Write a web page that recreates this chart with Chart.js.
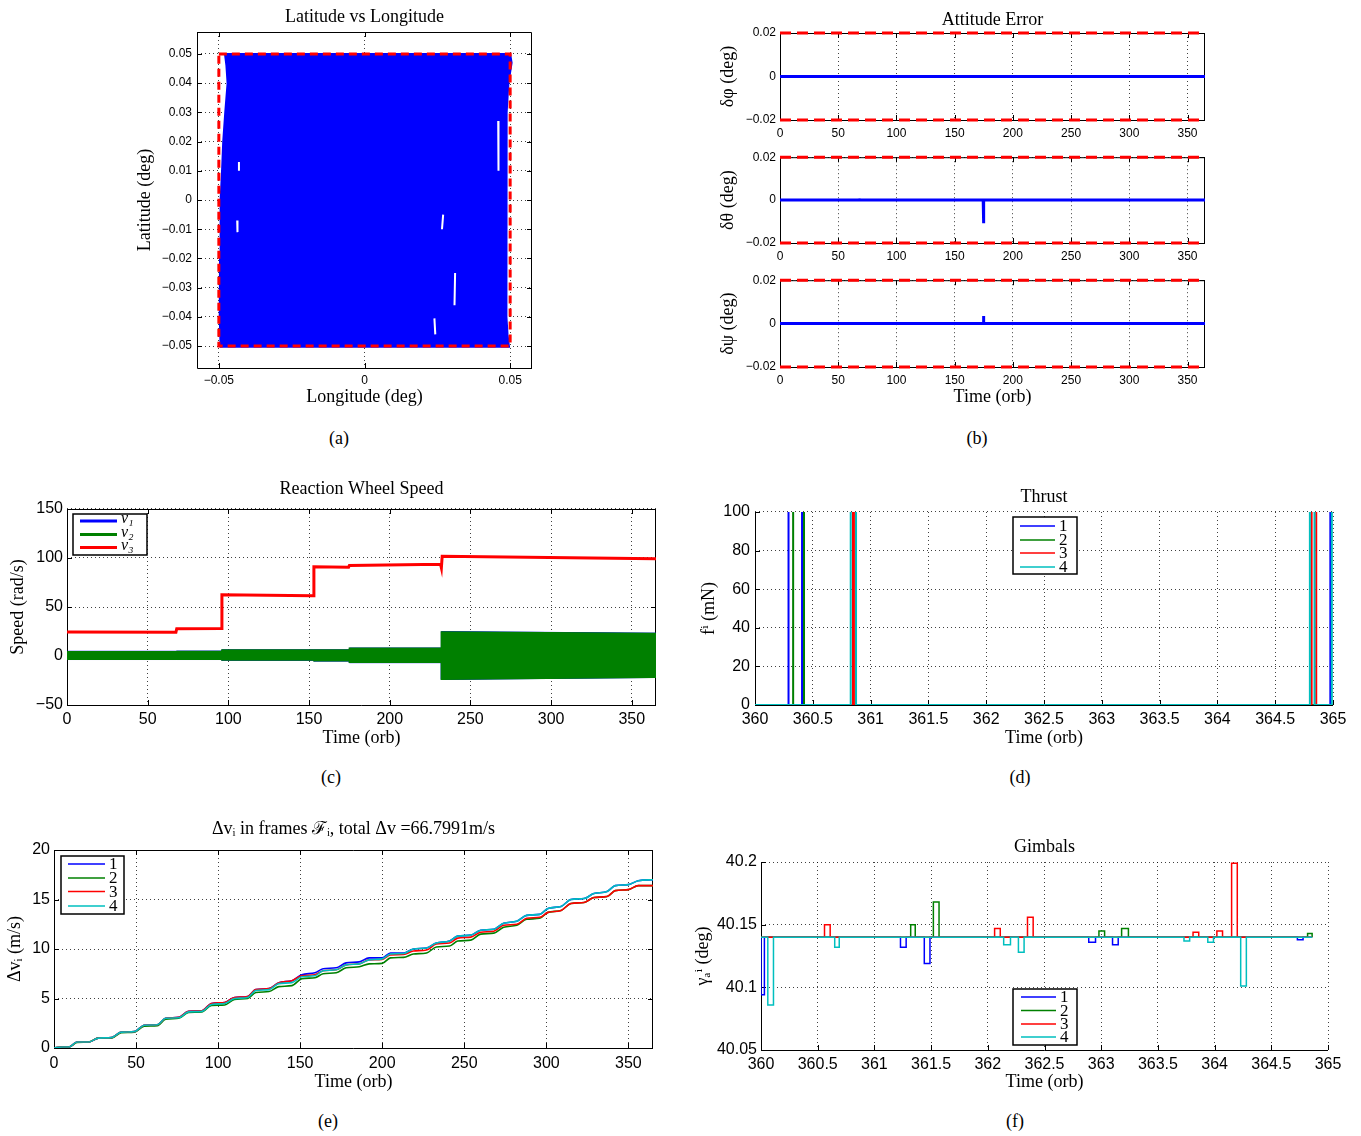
<!DOCTYPE html>
<html>
<head>
<meta charset="utf-8">
<script src="https://cdn.jsdelivr.net/npm/chart.js@4.4.1/dist/chart.umd.min.js"></script>
<style>
  body { margin: 0; background: #fff; width: 1361px; height: 1136px; position: relative; overflow: hidden; }
  canvas { position: absolute; }
  .cap { position: absolute; font: 18px 'Liberation Serif', serif; transform: translate(-50%, -50%); }
</style>
</head>
<body>
<div class="cap" style="left:339px;top:438px">(a)</div>
<div class="cap" style="left:977px;top:438px">(b)</div>
<div class="cap" style="left:331px;top:777px">(c)</div>
<div class="cap" style="left:1020px;top:777px">(d)</div>
<div class="cap" style="left:328px;top:1121px">(e)</div>
<div class="cap" style="left:1015px;top:1121px">(f)</div>
<script>
// ---- (a) latitude vs longitude: outline of the covered area, white gaps, limit box
const trackLon = [-0.0479, 0.0500, 0.0505, 0.0494, 0.0488, 0.0486, 0.0487, 0.0488, 0.0487, 0.0488, 0.0491, 0.0496,
                  -0.0494, -0.0497, -0.0496, -0.0494, -0.0489, -0.0485, -0.0478, -0.0470, -0.0474, -0.0479];
const trackLat = [0.0500, 0.0500, 0.0470, 0.0400, 0.0300, 0.0200, 0.0100, 0.0000, -0.0200, -0.0400, -0.0460, -0.0502,
                  -0.0502, -0.0400, -0.0200, 0.0000, 0.0100, 0.0200, 0.0300, 0.0400, 0.0460, 0.0500];
const gapLon = [0.0459, 0.0460, null, 0.0311, 0.0309, null, 0.0240, 0.0243, null, 0.0270, 0.0266, null, -0.0431, -0.0431, null, -0.0437, -0.0436];
const gapLat = [0.0270, 0.0100, null, -0.0250, -0.0360, null, -0.0405, -0.0460, null, -0.0050, -0.0100, null, 0.0130, 0.0100, null, -0.0070, -0.0110];
const limLon = [-0.05, 0.05, 0.05, -0.05, -0.05];
const limLat = [0.05, 0.05, -0.05, -0.05, 0.05];
const aXTicks = [-0.05, 0, 0.05];
const aYTicks = [-0.05, -0.04, -0.03, -0.02, -0.01, 0, 0.01, 0.02, 0.03, 0.04, 0.05];

// ---- (b) attitude error
const attT = [0, 365];
const phiErr = [0, 0];
const thetaT = [0, 67.6, 67.8, 68.0, 174.5, 174.7, 174.9, 175.1, 365];
const thetaErr = [0, 0, 0.0007, 0, 0, 0.0008, -0.0108, 0, 0];
const psiT = [0, 174.6, 174.8, 175.0, 365];
const psiErr = [0, 0, 0.0035, 0, 0];
const attBound = [0.02, 0.02];
const bXTicks = [0, 50, 100, 150, 200, 250, 300, 350];
const bYTicks = [-0.02, 0, 0.02];

// ---- (c) reaction wheel speed (nu1/nu2 oscillate: drawn as their envelopes)
const rwT = [0, 67.5, 68, 95.5, 96, 152.5, 153, 174.5, 175, 231.5, 232, 232.5, 365];
const nu3 = [24.5, 24.2, 27.8, 28, 62.5, 61.5, 91, 90.6, 92.4, 93.5, 90, 101.8, 99.3];
const bandT = [0, 68, 68, 96, 96, 153, 153, 175, 175, 232, 232, 365];
const nu1Hi = [4.8, 4.8, 5, 5, 6.3, 6.3, 6.3, 6.3, 8.1, 8.1, 24.9, 23.3];
const nu1Lo = [-3.6, -3.6, -3.6, -3.6, -4.4, -4.4, -5.2, -5.2, -6.8, -6.8, -23.9, -21.9];
const nu2Hi = [4.4, 4.4, 4.6, 4.6, 6, 6, 6, 6, 7.8, 7.8, 24.6, 23];
const nu2Lo = [-3.3, -3.3, -3.3, -3.3, -4.1, -4.1, -4.9, -4.9, -6.4, -6.4, -23.6, -21.6];
const cYTicks = [-50, 0, 50, 100, 150];

// ---- (d) thrust pulses (on / off times, level is off the scale)
const thrPeak = 150;
const thr1On = [360.29, 364.977], thr1Off = [360.407, 365.1];
const thr2On = [360.33], thr2Off = [360.424];
const thr3On = [360.848, 364.815], thr3Off = [360.866, 364.855];
const thr4On = [360.828, 364.80, 364.99], thr4Off = [360.874, 364.84, 365.1];
const dXTicks = [360, 360.5, 361, 361.5, 362, 362.5, 363, 363.5, 364, 364.5, 365];
const dYTicks = [0, 20, 40, 60, 80, 100];

// ---- (e) delta-v per frame
const dvT = [0, 5, 9, 14, 21, 27, 35, 41, 49, 55, 63, 68, 76, 82, 90, 96, 104, 110, 118, 123,
             131, 137, 145, 151, 159, 164, 172, 178, 186, 192, 200, 205, 213, 219, 227, 233, 241, 246, 254, 260,
             268, 274, 282, 288, 296, 301, 309, 315, 323, 329, 337, 342, 350, 356, 365];
const dv1 = [0, 0.1, 0.1, 0.6, 0.6, 1.0, 1.05, 1.6, 1.65, 2.3, 2.35, 3.0, 3.1, 3.7, 3.75, 4.5, 4.6, 5.1, 5.2, 5.9,
             6.0, 6.6, 6.8, 7.4, 7.6, 8.0, 8.1, 8.6, 8.7, 9.1, 9.1, 9.6, 9.6, 10.0, 10.1, 10.6, 10.8, 11.3, 11.4, 11.9,
             12.0, 12.6, 12.8, 13.4, 13.5, 14.1, 14.3, 15.0, 15.1, 15.6, 15.8, 16.4, 16.5, 16.9, 17.0];
const dv2 = [0, 0.1, 0.1, 0.55, 0.6, 1.0, 1.0, 1.55, 1.6, 2.2, 2.25, 2.9, 3.0, 3.6, 3.65, 4.3, 4.35, 4.9, 5.0, 5.6,
             5.7, 6.2, 6.3, 7.0, 7.1, 7.5, 7.6, 8.1, 8.2, 8.5, 8.55, 9.1, 9.15, 9.5, 9.6, 10.2, 10.3, 10.8, 10.9, 11.5,
             11.6, 12.2, 12.4, 13.0, 13.1, 13.7, 13.9, 14.6, 14.7, 15.2, 15.3, 15.9, 16.0, 16.4, 16.4];
const dv3 = [0, 0.1, 0.1, 0.6, 0.6, 1.0, 1.05, 1.6, 1.65, 2.3, 2.35, 3.0, 3.1, 3.7, 3.75, 4.5, 4.6, 5.1, 5.2, 5.9,
             6.0, 6.6, 6.8, 7.3, 7.4, 7.8, 7.9, 8.4, 8.5, 8.9, 8.95, 9.4, 9.45, 9.8, 9.9, 10.5, 10.6, 11.1, 11.2, 11.7,
             11.8, 12.4, 12.5, 13.1, 13.2, 13.7, 13.9, 14.6, 14.7, 15.2, 15.3, 15.9, 16.0, 16.4, 16.4];
const dv4 = [0, 0.1, 0.1, 0.6, 0.6, 1.0, 1.05, 1.6, 1.65, 2.3, 2.35, 3.0, 3.05, 3.65, 3.7, 4.4, 4.5, 5.0, 5.1, 5.8,
             5.9, 6.5, 6.6, 7.2, 7.3, 7.8, 7.9, 8.4, 8.5, 8.9, 9.0, 9.5, 9.55, 10.0, 10.1, 10.6, 10.8, 11.3, 11.4, 11.9,
             12.0, 12.6, 12.8, 13.4, 13.5, 14.1, 14.3, 15.0, 15.1, 15.6, 15.8, 16.4, 16.5, 16.9, 17.0];
const eXTicks = [0, 50, 100, 150, 200, 250, 300, 350];
const eYTicks = [0, 5, 10, 15, 20];

// ---- (f) gimbal angles: pulse start, end, level
const gimBase = 40.14, gimEnd = 364.86;
const g1On = [360.0, 361.23, 361.44, 362.89, 363.1, 364.73];
const g1Off = [360.03, 361.28, 361.49, 362.95, 363.15, 364.78];
const g1Val = [40.094, 40.132, 40.119, 40.136, 40.134, 40.138];
const g2On = [361.32, 361.52, 362.98, 363.18, 364.82];
const g2Off = [361.36, 361.57, 363.03, 363.24, 364.86];
const g2Val = [40.15, 40.168, 40.145, 40.147, 40.143];
const g3On = [360.56, 362.06, 362.35, 363.81, 364.02, 364.15];
const g3Off = [360.61, 362.11, 362.40, 363.86, 364.07, 364.20];
const g3Val = [40.15, 40.147, 40.156, 40.144, 40.145, 40.199];
const g4On = [360.06, 360.65, 362.14, 362.27, 363.73, 363.94, 364.23];
const g4Off = [360.11, 360.69, 362.20, 362.32, 363.78, 363.99, 364.28];
const g4Val = [40.086, 40.132, 40.134, 40.128, 40.137, 40.136, 40.101];
const fYTicks = [40.05, 40.1, 40.15, 40.2];

const BLUE = '#0000ff', GREEN = '#008000', RED = '#ff0000', CYAN = '#00bfbf';
const SANS = "'Liberation Sans', Arial, sans-serif";
const SERIF = "'Liberation Serif', 'DejaVu Serif', serif";
const LH = 18 * 1.2;

function pts(xs, ys) {
  return xs.map((x, i) => x === null ? { x: 0, y: null } : { x: x, y: ys[i] });
}
function pulses(t0, t1, base, on, off, lvl) {
  const xs = [t0], ys = [base];
  on.forEach((s, i) => { xs.push(s, s, off[i], off[i]); ys.push(base, lvl[i], lvl[i], base); });
  xs.push(t1); ys.push(base);
  return pts(xs, ys);
}
const fmt = v => String(Math.round(v * 1e6) / 1e6).replace('-', '\u2212');

// box around the axes with inward tick marks
const framePlugin = {
  id: 'frame',
  beforeDatasetsDraw(chart, args, o) {
    const ctx = chart.ctx, a = chart.chartArea;
    ctx.save();
    ctx.strokeStyle = '#000';
    ctx.lineWidth = 1;
    ctx.beginPath();
    ctx.moveTo(a.left + 0.5, a.top);
    ctx.lineTo(a.left + 0.5, a.bottom + 0.5);
    ctx.lineTo(a.right, a.bottom + 0.5);
    if (o.full) {
      ctx.moveTo(a.left, a.top + 0.5);
      ctx.lineTo(a.right - 0.5, a.top + 0.5);
      ctx.lineTo(a.right - 0.5, a.bottom);
    }
    chart.scales.x.ticks.forEach(t => {
      const px = Math.round(chart.scales.x.getPixelForValue(t.value)) + 0.5;
      ctx.moveTo(px, a.bottom); ctx.lineTo(px, a.bottom - 5);
      if (o.full) { ctx.moveTo(px, a.top); ctx.lineTo(px, a.top + 5); }
    });
    chart.scales.y.ticks.forEach(t => {
      const py = Math.round(chart.scales.y.getPixelForValue(t.value)) + 0.5;
      ctx.moveTo(a.left, py); ctx.lineTo(a.left + 5, py);
      if (o.full) { ctx.moveTo(a.right, py); ctx.lineTo(a.right - 5, py); }
    });
    ctx.stroke();
    ctx.restore();
  }
};

// MATLAB style boxed legend, placed in page coordinates
const legendPlugin = {
  id: 'boxLegend',
  afterDraw(chart, args, o) {
    if (!o.rows) return;
    const ctx = chart.ctx;
    const items = chart.data.datasets.filter(d => d.label);
    ctx.save();
    ctx.translate(-o.ox, -o.oy);
    ctx.fillStyle = '#fff';
    ctx.fillRect(o.x0, o.y0, o.x1 - o.x0, o.y1 - o.y0);
    ctx.strokeStyle = '#000';
    ctx.lineWidth = 1.5;
    ctx.strokeRect(o.x0, o.y0, o.x1 - o.x0, o.y1 - o.y0);
    items.forEach((d, i) => {
      const y = o.rows[i];
      ctx.strokeStyle = d.borderColor;
      ctx.lineWidth = o.lw;
      ctx.beginPath(); ctx.moveTo(o.lx0, y); ctx.lineTo(o.lx1, y); ctx.stroke();
      ctx.fillStyle = '#000';
      ctx.font = o.font;
      ctx.textBaseline = 'middle';
      ctx.fillText(d.label, o.tx, y + (o.dy || 0));
    });
    ctx.restore();
  }
};

function axis(min, max, ticks, size, pad, title) {
  return {
    type: 'linear', min: min, max: max,
    afterBuildTicks: s => { s.ticks = ticks.map(v => ({ value: v })); },
    ticks: { color: '#000', font: { size: size, family: SANS }, padding: pad, callback: v => fmt(v), maxRotation: 0, autoSkip: false },
    grid: { color: 'rgba(0,0,0,0.75)', drawTicks: false, lineWidth: 1 },
    border: { display: false, dash: [1, 3] },
    title: title ? { display: true, text: title, color: '#000', font: { family: SERIF, size: 18 }, padding: 0 } : { display: false }
  };
}

function plot(s) {
  const cl = Math.round(s.yTitleX - LH / 2);
  const ct = Math.round(s.title ? s.titleY - LH / 2 - 4 : s.T - 10);
  const cb = Math.round(s.xTitle ? s.xTitleY + LH / 2 : s.B + 24);
  const cr = s.R + 22;
  const cv = document.createElement('canvas');
  cv.width = cr - cl;
  cv.height = cb - ct;
  cv.style.left = cl + 'px';
  cv.style.top = ct + 'px';
  document.body.appendChild(cv);

  const x = axis(s.x[0], s.x[1], s.x[2], s.tickSize, s.xPad, s.xTitle);
  x.afterFit = sc => { sc.height = cb - s.B; };
  const y = axis(s.y[0], s.y[1], s.y[2], s.tickSize, s.yPad, s.yTitle);
  y.afterFit = sc => { sc.width = s.L - cl; };

  new Chart(cv, {
    type: 'line',
    data: { datasets: s.datasets },
    options: {
      responsive: false, animation: false, devicePixelRatio: 1,
      layout: { padding: { left: 0, right: cr - s.R, top: s.title ? 0 : s.T - ct, bottom: 0 } },
      elements: { point: { radius: 0 }, line: { tension: 0 } },
      scales: { x: x, y: y },
      plugins: {
        legend: { display: false },
        tooltip: { enabled: false },
        title: s.title ? {
          display: true, text: s.title, color: '#000', fullSize: false,
          font: { family: SERIF, size: 18, weight: 'normal' },
          padding: { top: s.titleY - LH / 2 - ct, bottom: s.T - s.titleY - LH / 2 }
        } : { display: false },
        frame: { full: s.full !== false },
        boxLegend: s.legend ? Object.assign({ ox: cl, oy: ct }, s.legend) : {}
      }
    },
    plugins: [framePlugin, legendPlugin]
  });
}

// (a)
plot({
  L: 197, R: 532, T: 32, B: 368, titleY: 17, yTitleX: 145, xTitleY: 397,
  title: 'Latitude vs Longitude', yTitle: 'Latitude (deg)', xTitle: 'Longitude (deg)',
  x: [-0.0575, 0.0575, aXTicks], y: [-0.0575, 0.0575, aYTicks], tickSize: 12, xPad: 5, yPad: 5,
  datasets: [
    { data: pts(limLon, limLat), borderColor: RED, borderWidth: 3, borderDash: [8, 5], order: 0 },
    { data: pts(gapLon, gapLat), borderColor: '#fff', borderWidth: 2, order: 1 },
    { data: pts(trackLon, trackLat), borderColor: BLUE, backgroundColor: BLUE, borderWidth: 2, fill: 'shape', order: 2 }
  ]
});

// (b)
const attSeries = [
  { T: 33, B: 120, t: attT, v: phiErr, yTitle: '\u03b4\u03c6 (deg)', title: 'Attitude Error', titleY: 20 },
  { T: 156, B: 243, t: thetaT, v: thetaErr, yTitle: '\u03b4\u03b8 (deg)' },
  { T: 279, B: 367, t: psiT, v: psiErr, yTitle: '\u03b4\u03c8 (deg)', xTitle: 'Time (orb)', xTitleY: 397 }
];
attSeries.forEach(p => plot({
  L: 780, R: 1205, T: p.T, B: p.B, titleY: p.titleY, yTitleX: 728, xTitleY: p.xTitleY,
  title: p.title, yTitle: p.yTitle, xTitle: p.xTitle,
  x: [0, 365, bXTicks], y: [-0.02, 0.02, bYTicks], tickSize: 12, xPad: 6, yPad: 4,
  datasets: [
    { data: pts(attT, attBound), borderColor: RED, borderWidth: 3, borderDash: [11, 6], clip: 4, order: 0 },
    { data: pts(attT, attBound.map(v => -v)), borderColor: RED, borderWidth: 3, borderDash: [11, 6], clip: 4, order: 0 },
    { data: pts(p.t, p.v), borderColor: BLUE, borderWidth: 3, order: 1 }
  ]
}));

// (c)
plot({
  L: 67, R: 656, T: 509, B: 705, titleY: 489, yTitleX: 18, xTitleY: 738,
  title: 'Reaction Wheel Speed', yTitle: 'Speed (rad/s)', xTitle: 'Time (orb)',
  x: [0, 365, bXTicks], y: [-50, 150, cYTicks], tickSize: 16, xPad: 5, yPad: 4,
  legend: { x0: 73, x1: 147, y0: 514, y1: 555, rows: [521, 534.5, 547.5], lx0: 80, lx1: 117, tx: 121, lw: 3, dy: -2, font: "italic 16px " + SERIF },
  datasets: [
    { label: '\u03bd\u2081', data: pts(bandT, nu1Hi), borderColor: BLUE, backgroundColor: BLUE, borderWidth: 1, fill: '+1', order: 2 },
    { data: pts(bandT, nu1Lo), borderColor: BLUE, borderWidth: 1, order: 2 },
    { label: '\u03bd\u2082', data: pts(bandT, nu2Hi), borderColor: GREEN, backgroundColor: GREEN, borderWidth: 1.5, fill: '+1', order: 1 },
    { data: pts(bandT, nu2Lo), borderColor: GREEN, borderWidth: 1.5, order: 1 },
    { label: '\u03bd\u2083', data: pts(rwT, nu3), borderColor: RED, borderWidth: 3, order: 0 }
  ]
});

// (d)
const thrusters = [[thr1On, thr1Off, BLUE], [thr2On, thr2Off, GREEN], [thr3On, thr3Off, RED], [thr4On, thr4Off, CYAN]];
plot({
  L: 755, R: 1333, T: 512, B: 705, titleY: 497, yTitleX: 709, xTitleY: 738, full: false,
  title: 'Thrust', yTitle: 'f\u2071 (mN)', xTitle: 'Time (orb)',
  x: [360, 365, dXTicks], y: [0, 100, dYTicks], tickSize: 16, xPad: 5, yPad: 5,
  legend: { x0: 1013, x1: 1077, y0: 517, y1: 574, rows: [526, 540, 553, 567], lx0: 1020, lx1: 1055, tx: 1059, lw: 1.5, dy: 1, font: "17px " + SERIF },
  datasets: thrusters.map((th, i) => ({
    label: String(i + 1), data: pulses(360, 365.1, 0, th[0], th[1], th[0].map(() => thrPeak)),
    borderColor: th[2], borderWidth: 2, order: 4 - i
  }))
});

// (e)
const dvSeries = [[dv1, BLUE], [dv2, GREEN], [dv3, RED], [dv4, CYAN]];
plot({
  L: 54, R: 653, T: 850, B: 1048, titleY: 829, yTitleX: 15, xTitleY: 1082,
  title: '\u0394v\u1d62 in frames \u2131\u1d62, total \u0394v =66.7991m/s', yTitle: '\u0394v\u1d62 (m/s)', xTitle: 'Time (orb)',
  x: [0, 365, eXTicks], y: [0, 20, eYTicks], tickSize: 16, xPad: 6, yPad: 4,
  legend: { x0: 61, x1: 124, y0: 856, y1: 914, rows: [864, 878, 891.5, 906], lx0: 68, lx1: 105, tx: 109, lw: 1.5, dy: 1, font: "17px " + SERIF },
  datasets: dvSeries.map((d, i) => ({
    label: String(i + 1), data: pts(dvT, d[0]), borderColor: d[1], borderWidth: 1.6,
    cubicInterpolationMode: 'monotone', order: 4 - i
  }))
});

// (f)
const gimbals = [[g1On, g1Off, g1Val, BLUE], [g2On, g2Off, g2Val, GREEN], [g3On, g3Off, g3Val, RED], [g4On, g4Off, g4Val, CYAN]];
plot({
  L: 761, R: 1328, T: 862, B: 1050, titleY: 847, yTitleX: 703, xTitleY: 1082, full: false,
  title: 'Gimbals', yTitle: '\u03b3\u2090\u2071 (deg)', xTitle: 'Time (orb)',
  x: [360, 365, dXTicks], y: [40.05, 40.2, fYTicks], tickSize: 16, xPad: 5, yPad: 4,
  legend: { x0: 1013, x1: 1077, y0: 989, y1: 1045, rows: [997, 1010.5, 1024, 1037], lx0: 1021, lx1: 1056, tx: 1060, lw: 1.5, dy: 1, font: "17px " + SERIF },
  datasets: gimbals.map((g, i) => ({
    label: String(i + 1), data: pulses(360, gimEnd, gimBase, g[0], g[1], g[2]),
    borderColor: g[3], borderWidth: 1.5, order: 4 - i
  }))
});
</script>
</body>
</html>
